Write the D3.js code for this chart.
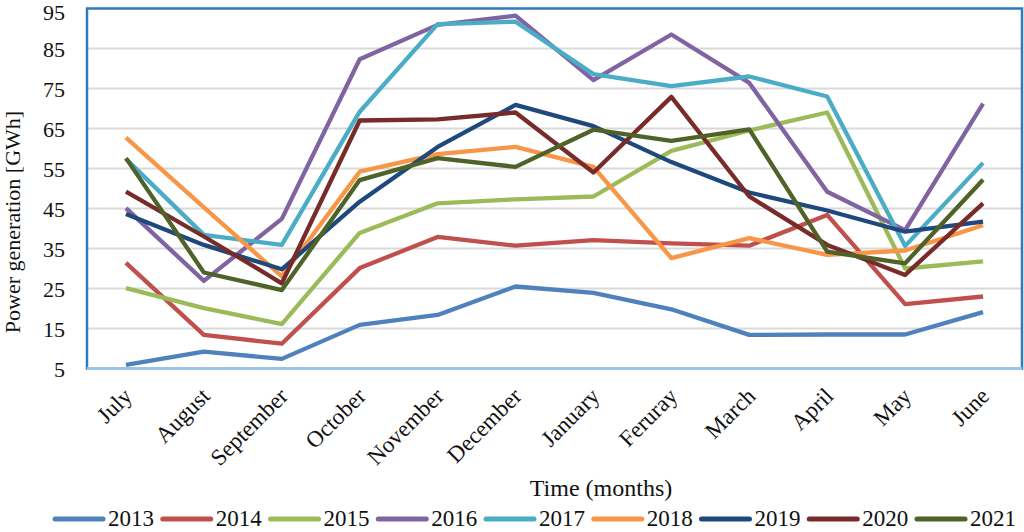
<!DOCTYPE html>
<html><head><meta charset="utf-8">
<script src="https://cdn.jsdelivr.net/npm/d3@7"></script>
<style>
body{margin:0;background:#fff;}
text{font-family:"Liberation Serif","Times New Roman",serif;fill:#111;}
</style></head>
<body><svg id="c" width="1024" height="532"></svg>
<script>
const months = ["July","August","September","October","November","December","January","Feruray","March","April","May","June"];
const years = ["2013","2014","2015","2016","2017","2018","2019","2020","2021"];
const colors = ["#4F81BD","#C0504D","#9BBB59","#8064A2","#4BACC6","#F79646","#1F497D","#772C2A","#4F6228"];
const yTicks = [5,15,25,35,45,55,65,75,85,95];
const v2013 = [5.9, 9.2, 7.4, 15.9, 18.4, 25.5, 23.9, 19.8, 13.4, 13.5, 13.5, 19.1];
const v2014 = [31.4, 13.4, 11.2, 30.1, 37.9, 35.7, 37.1, 36.3, 35.7, 43.4, 21.1, 23.0];
const v2015 = [25.1, 20.1, 16.1, 38.9, 46.3, 47.3, 48.0, 59.4, 64.5, 69.0, 30.0, 31.8];
const v2016 = [45.1, 26.9, 42.4, 82.3, 90.9, 93.2, 77.1, 88.5, 76.4, 49.2, 39.6, 71.2];
const v2017 = [57.4, 38.4, 35.9, 69.2, 91.1, 91.7, 78.6, 75.6, 78.0, 73.0, 35.6, 56.4];
const v2018 = [62.7, 45.3, 28.0, 54.2, 58.6, 60.4, 55.4, 32.6, 37.6, 33.4, 34.5, 40.8];
const v2019 = [43.6, 35.9, 29.8, 46.7, 60.4, 70.9, 65.6, 56.6, 49.0, 44.5, 39.2, 41.7];
const v2020 = [49.2, 38.0, 26.3, 67.0, 67.3, 69.0, 54.0, 72.9, 48.0, 35.9, 28.4, 46.3];
const v2021 = [57.6, 29.0, 24.6, 52.1, 57.6, 55.4, 64.7, 61.9, 64.8, 34.2, 31.3, 52.2];
const series = [v2013,v2014,v2015,v2016,v2017,v2018,v2019,v2020,v2021];

const svg = d3.select("#c");
const L=87, R=1022, T=8.5, B=368.5;
const x = d3.scalePoint().domain(months).range([L,R]).padding(0.5);
const y = d3.scaleLinear().domain([5,95]).range([B,T]);

// gridlines
svg.append("g").selectAll("line").data(yTicks.slice(1,-1)).join("line")
  .attr("x1",L).attr("x2",R).attr("y1",d=>y(d)).attr("y2",d=>y(d))
  .attr("stroke","#d9d9d9").attr("stroke-width",2);

// y axis labels
const ya = svg.append("g").attr("transform",`translate(${L},0)`)
  .call(d3.axisLeft(y).tickValues(yTicks).tickSize(0).tickPadding(22));
ya.select(".domain").remove();
ya.selectAll("text").attr("font-size",22).attr("font-family","Liberation Serif").attr("fill","#111")
  .attr("dy",d=>d===95?"0.52em":"0.36em");

// x axis labels
const xa = svg.append("g").attr("transform",`translate(0,${B})`)
  .call(d3.axisBottom(x).tickSize(0));
xa.select(".domain").remove();
xa.selectAll("text").attr("font-size",23).attr("font-family","Liberation Serif").attr("fill","#111")
  .attr("text-anchor","end").attr("dy",0).attr("y",0)
  .attr("transform","translate(7,29) rotate(-45)");

// lines
const line = d3.line().x((d,i)=>x(months[i])).y(d=>y(d));
svg.append("g").selectAll("path").data(series).join("path")
  .attr("d",d=>line(d)).attr("fill","none")
  .attr("stroke",(d,i)=>colors[i]).attr("stroke-width",4.3)
  .attr("stroke-linejoin","round");

// plot border
svg.append("rect").attr("x",L).attr("y",T).attr("width",R-L).attr("height",B-T)
  .attr("fill","none").attr("stroke","#2E7BC4").attr("stroke-width",2.5);
svg.append("line").attr("x1",L).attr("x2",R).attr("y1",B).attr("y2",B)
  .attr("stroke","#9DC3E6").attr("stroke-width",3);

// axis titles
svg.append("text").attr("transform","translate(20,222) rotate(-90)")
  .attr("text-anchor","middle").attr("font-size",22).text("Power generation [GWh]");
svg.append("text").attr("x",601).attr("y",496).attr("text-anchor","middle")
  .attr("font-size",24).text("Time (months)");

// legend
const lg = svg.append("g").attr("transform","translate(55,519)");
const item = lg.selectAll("g").data(years).join("g")
  .attr("transform",(d,i)=>`translate(${i*107.75},0)`);
item.append("line").attr("x1",0).attr("x2",48).attr("y1",0).attr("y2",0)
  .attr("stroke",(d,i)=>colors[i]).attr("stroke-width",5).attr("stroke-linecap","round");
item.append("text").attr("x",53).attr("y",7).attr("font-size",23).text(d=>d);
</script></body></html>
